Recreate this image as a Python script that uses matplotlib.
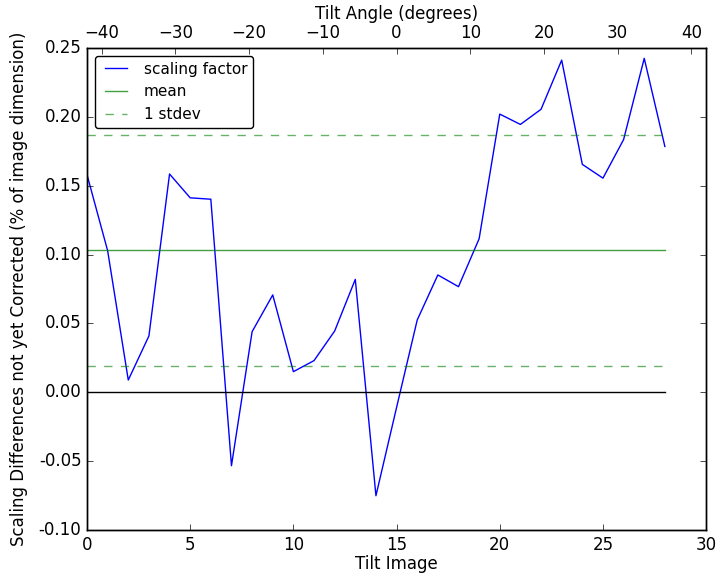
import numpy as np
import matplotlib
matplotlib.use("Agg")
import matplotlib.pyplot as plt

plt.style.use("classic")

tilt_image = list(range(29))
tilt_angles = [-42 + 3 * i for i in tilt_image]
scaling = [0.1580, 0.1028, 0.0089, 0.0409, 0.1585, 0.1412, 0.1402, -0.0533,
           0.0440, 0.0707, 0.0150, 0.0230, 0.0445, 0.0820, -0.0751, -0.0110,
           0.0525, 0.0852, 0.0767, 0.1115, 0.2020, 0.1945, 0.2055, 0.2412,
           0.1655, 0.1555, 0.1835, 0.2425, 0.1785]
mean_value = 0.1030
stdev_value = 0.0838

fig = plt.figure(figsize=(7.25, 5.79), dpi=100, facecolor="white")
ax = fig.add_axes([0.12, 0.0846, 0.854, 0.8325])

n = len(tilt_image)
ax.plot(tilt_image, scaling, color="b", lw=1, label="scaling factor")
ax.plot(tilt_image, [mean_value] * n, color="g", alpha=0.75, lw=1, label="mean")
ax.plot(tilt_image, [mean_value + stdev_value] * n, color="g", alpha=0.6,
        ls="--", dashes=(6, 6), lw=1, label="1 stdev")
ax.plot(tilt_image, [mean_value - stdev_value] * n, color="g", alpha=0.6,
        ls="--", dashes=(6, 6), lw=1)
ax.plot(tilt_image, [0] * n, color="k", lw=1)

ax.set_xlim(0, 30)
ax.set_ylim(-0.10, 0.25)
ax.set_yticks(np.arange(-0.10, 0.2501, 0.05))
ax.set_yticklabels([f"{v:.2f}" for v in np.arange(-0.10, 0.2501, 0.05)])
ax.set_xlabel("Tilt Image", labelpad=1)
ax.set_ylabel("Scaling Differences not yet Corrected (% of image dimension)",
              labelpad=8)
ax.legend(loc="upper left", fontsize=11, fancybox=True)

ax2 = ax.twiny()
ax2.set_xlim(tilt_angles[0], tilt_angles[-1])
ax2.set_xticks([-40, -30, -20, -10, 0, 10, 20, 30, 40])
ax2.set_xlabel("Tilt Angle (degrees)", labelpad=4)

fig.savefig("out.png", dpi=100, facecolor="white")
